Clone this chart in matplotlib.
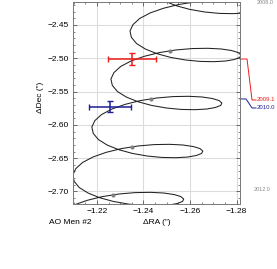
import matplotlib
matplotlib.use("Agg")
import matplotlib.pyplot as plt
from matplotlib.ticker import MultipleLocator

plt.rcParams['font.family'] = ['Liberation Sans', 'DejaVu Sans']

# predicted astrometric track (parallax + proper motion)
track_ra = [
    -1.2452, -1.2490, -1.2540, -1.2599, -1.2663, -1.2726, -1.2785, -1.2836, -1.2873, -1.2896, -1.2901,
    -1.2889, -1.2860, -1.2815, -1.2758, -1.2692, -1.2622, -1.2551, -1.2486, -1.2429, -1.2384, -1.2355,
    -1.2342, -1.2348, -1.2370, -1.2408, -1.2458, -1.2517, -1.2581, -1.2644, -1.2703, -1.2754, -1.2791, -1.2814,
    -1.2819, -1.2807, -1.2778, -1.2733, -1.2676, -1.2610, -1.2540, -1.2469, -1.2404, -1.2347, -1.2302, -1.2273,
    -1.2260, -1.2266, -1.2288, -1.2326, -1.2376, -1.2435, -1.2499, -1.2562, -1.2621, -1.2672, -1.2709, -1.2732,
    -1.2737, -1.2725, -1.2696, -1.2651, -1.2594, -1.2528, -1.2458, -1.2387, -1.2322, -1.2265, -1.2220, -1.2191,
    -1.2178, -1.2184, -1.2206, -1.2244, -1.2294, -1.2353, -1.2417, -1.2480, -1.2539, -1.2590, -1.2627, -1.2650,
    -1.2655, -1.2643, -1.2614, -1.2569, -1.2512, -1.2446, -1.2376, -1.2305, -1.2240, -1.2183, -1.2138, -1.2109,
    -1.2096, -1.2102, -1.2124, -1.2162, -1.2212, -1.2271, -1.2335, -1.2398, -1.2457, -1.2508, -1.2545, -1.2568,
    -1.2573, -1.2561, -1.2532, -1.2487, -1.2430, -1.2364, -1.2294, -1.2223, -1.2158, -1.2101, -1.2056,
]
track_dec = [
    -2.4057, -2.4140, -2.4210, -2.4266, -2.4305, -2.4326, -2.4330, -2.4320, -2.4297, -2.4266, -2.4230,
    -2.4193, -2.4162, -2.4139, -2.4129, -2.4133, -2.4154, -2.4193, -2.4249, -2.4319, -2.4402, -2.4494,
    -2.4590, -2.4686, -2.4778, -2.4861, -2.4931, -2.4987, -2.5026, -2.5047, -2.5051, -2.5041, -2.5018, -2.4987,
    -2.4951, -2.4914, -2.4883, -2.4860, -2.4850, -2.4854, -2.4875, -2.4914, -2.4970, -2.5040, -2.5123, -2.5215,
    -2.5311, -2.5407, -2.5499, -2.5582, -2.5652, -2.5708, -2.5747, -2.5768, -2.5772, -2.5762, -2.5739, -2.5708,
    -2.5672, -2.5635, -2.5604, -2.5581, -2.5571, -2.5575, -2.5596, -2.5635, -2.5691, -2.5761, -2.5844, -2.5936,
    -2.6032, -2.6128, -2.6220, -2.6303, -2.6373, -2.6429, -2.6468, -2.6489, -2.6493, -2.6483, -2.6460, -2.6429,
    -2.6393, -2.6356, -2.6325, -2.6302, -2.6292, -2.6296, -2.6317, -2.6356, -2.6412, -2.6482, -2.6565, -2.6657,
    -2.6753, -2.6849, -2.6941, -2.7024, -2.7094, -2.7150, -2.7189, -2.7210, -2.7214, -2.7204, -2.7181, -2.7150,
    -2.7114, -2.7077, -2.7046, -2.7023, -2.7013, -2.7017, -2.7038, -2.7077, -2.7133, -2.7203, -2.7286,
]

# yearly markers on the track
mark_ra = [-1.2513, -1.2431, -1.2349, -1.2267]
mark_dec = [-2.4890, -2.5611, -2.6332, -2.7053]

# measured positions
obs_epoch = ['2009.1', '2010.0']
obs_ra = [-1.2351, -1.2256]
obs_dec = [-2.5011, -2.5731]
obs_ra_err = [0.0103, 0.0090]
obs_dec_err = [0.0090, 0.0083]
obs_colors = ['#ee1c1c', '#1e1e96']
obs_link_dec = [-2.5011, -2.5611]   # where the connector leaves the plot
obs_label_dec = [-2.5626, -2.5746]

# epoch scale on the right
scale_labels = ['2008.0', '2012.0']
scale_dec = [-2.4170, -2.6977]

fig = plt.figure(figsize=(2.77, 2.69), dpi=100)
ax = fig.add_axes([73 / 277, 1 - 204 / 269, 167 / 277, 202 / 269])

ax.plot(track_ra, track_dec, color='#222222', lw=0.75, zorder=2)
ax.plot(mark_ra, mark_dec, 'o', color='#808080', ms=3.0, mec='none', zorder=3)

for i in range(len(obs_ra)):
    ax.errorbar(obs_ra[i], obs_dec[i], xerr=obs_ra_err[i], yerr=obs_dec_err[i],
                color=obs_colors[i], lw=1.1, capsize=2.4, capthick=1.0, zorder=4)

ax.set_xlim(-1.2097, -1.2815)
ax.set_ylim(-2.7188, -2.4155)
ax.xaxis.set_major_locator(MultipleLocator(0.02))
ax.xaxis.set_minor_locator(MultipleLocator(0.005))
ax.yaxis.set_major_locator(MultipleLocator(0.05))
ax.yaxis.set_minor_locator(MultipleLocator(0.01))
ax.xaxis.set_major_formatter(plt.FuncFormatter(lambda v, p: f"{v:.2f}".replace('-', '\u2212')))
ax.yaxis.set_major_formatter(plt.FuncFormatter(lambda v, p: f"{v:.2f}".replace('-', '\u2212')))

ax.grid(True, which='major', color='#dcdcdc', lw=0.8, zorder=0)
ax.set_axisbelow(True)
ax.tick_params(which='both', direction='in', top=True, right=True, labelsize=6, color='#555555')
ax.tick_params(which='major', length=3, width=0.6, pad=3)
ax.tick_params(which='minor', length=1.6, width=0.5)
for s in ax.spines.values():
    s.set_color('#777777')
    s.set_linewidth(0.7)

ax.set_xlabel('\u0394RA (")', fontsize=6, labelpad=3)
ax.set_ylabel('\u0394Dec (")', fontsize=6)
ax.yaxis.set_label_coords(-0.175, 0.53)
fig.text(49 / 277, 1 - 222 / 269, 'AO Men #2', fontsize=6, ha='left', va='center')

# epoch scale labels and connectors
tr = ax.get_yaxis_transform()
ax.text(1.102, scale_dec[0], scale_labels[0], transform=tr, fontsize=4, color='#888888',
        ha='left', va='center', clip_on=False)
ax.text(1.084, scale_dec[1], scale_labels[1], transform=tr, fontsize=4, color='#888888',
        ha='left', va='center', clip_on=False)
knees = [1.042, 1.036]
for i in range(len(obs_epoch)):
    ax.plot([1.0, knees[i], 1.072, 1.096],
            [obs_link_dec[i], obs_link_dec[i], obs_label_dec[i], obs_label_dec[i]],
            color=obs_colors[i], lw=0.7, transform=tr, clip_on=False)
    ax.text(1.102, obs_label_dec[i], obs_epoch[i], transform=tr, fontsize=4.3,
            color=obs_colors[i], ha='left', va='center', clip_on=False)

fig.savefig('out.png', dpi=100)
